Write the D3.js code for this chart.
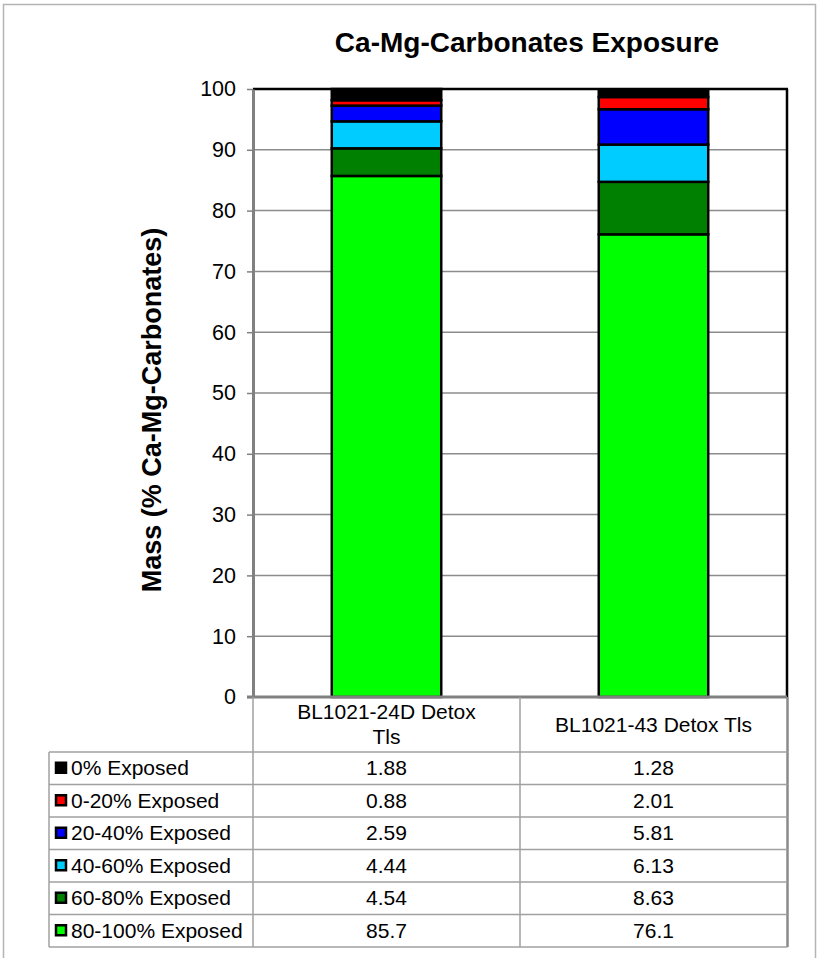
<!DOCTYPE html>
<html><head><meta charset="utf-8">
<script src="https://cdn.jsdelivr.net/npm/d3@7/dist/d3.min.js"></script>
<style>
body{margin:0;background:#fff}
text{font-family:"Liberation Sans",Arial,sans-serif;fill:#000}
</style>
</head><body>
<svg id="chart" width="817" height="958"></svg>
<script>
// ---- data ----
const categories = ["BL1021-24D Detox Tls", "BL1021-43 Detox Tls"];
const seriesNames = ["0% Exposed", "0-20% Exposed", "20-40% Exposed", "40-60% Exposed", "60-80% Exposed", "80-100% Exposed"];
const seriesColors = ["#000000", "#FF0000", "#0000FF", "#00CCFF", "#008000", "#00FF00"];
const exposed0 = [1.88, 1.28];
const exposed0to20 = [0.88, 2.01];
const exposed20to40 = [2.59, 5.81];
const exposed40to60 = [4.44, 6.13];
const exposed60to80 = [4.54, 8.63];
const exposed80to100 = [85.7, 76.1];
const yTicks = [0, 10, 20, 30, 40, 50, 60, 70, 80, 90, 100];
const titleText = "Ca-Mg-Carbonates Exposure";
const yTitleText = "Mass (% Ca-Mg-Carbonates)";

const seriesValues = [exposed0, exposed0to20, exposed20to40, exposed40to60, exposed60to80, exposed80to100];

// ---- layout ----
const svg = d3.select("#chart");
const plot = {left: 253, right: 787, top: 89, bottom: 697};
const tableLeft = 49, tableRight = 787.5, headerBottom = 752, tableBottom = 947;
const rowH = (tableBottom - headerBottom) / seriesNames.length;
const FONT = 21;

// outer border
svg.append("rect").attr("x", 3.5).attr("y", 4.5).attr("width", 812).attr("height", 965)
  .attr("fill", "none").attr("stroke", "#b4b4b4").attr("stroke-width", 1.5);

const x = d3.scaleBand().domain(categories).range([plot.left, plot.right])
  .paddingInner(0.59).paddingOuter(0.295);
const xCol = d3.scaleBand().domain(categories).range([plot.left, plot.right]);
const y = d3.scaleLinear().domain([0, 100]).range([plot.bottom, plot.top]);

// gridlines
svg.append("g").selectAll("line").data(yTicks.filter(d => d > 0 && d < 100)).join("line")
  .attr("x1", plot.left).attr("x2", plot.right)
  .attr("y1", d => y(d)).attr("y2", d => y(d))
  .attr("stroke", "#8c8c8c").attr("stroke-width", 1.5);

// stacked bars
const rows = categories.map((c, i) => {
  const o = {cat: c};
  seriesNames.forEach((s, j) => o[s] = seriesValues[j][i]);
  return o;
});
const stackKeys = seriesNames.slice().reverse();
const stacked = d3.stack().keys(stackKeys)(rows);
const color = d3.scaleOrdinal().domain(seriesNames).range(seriesColors);

svg.append("g").selectAll("g").data(stacked).join("g")
  .attr("fill", d => color(d.key))
  .selectAll("rect").data(d => d).join("rect")
  .attr("x", d => x(d.data.cat))
  .attr("width", x.bandwidth())
  .attr("y", d => y(Math.min(d[1], 100)))
  .attr("height", d => y(d[0]) - y(Math.min(d[1], 100)))
  .attr("stroke", "#000").attr("stroke-width", 2.5);

// frame top & right
svg.append("line").attr("x1", plot.left).attr("x2", plot.right + 1).attr("y1", plot.top).attr("y2", plot.top)
  .attr("stroke", "#000").attr("stroke-width", 2.5);
svg.append("line").attr("x1", plot.right).attr("x2", plot.right).attr("y1", plot.top).attr("y2", plot.bottom)
  .attr("stroke", "#000").attr("stroke-width", 2.5);

// y axis
const yAxis = svg.append("g").attr("transform", `translate(${plot.left},0)`)
  .call(d3.axisLeft(y).tickValues(yTicks).tickSize(6).tickPadding(11).tickSizeOuter(0));
yAxis.select(".domain").attr("stroke", "#808080").attr("stroke-width", 3);
yAxis.selectAll(".tick line").attr("stroke", "#808080").attr("stroke-width", 1.5);
yAxis.selectAll(".tick text").attr("font-size", 21.5).attr("font-family", "Liberation Sans, Arial, sans-serif").attr("fill", "#000");

// bottom axis line
svg.append("line").attr("x1", plot.left - 6).attr("x2", plot.right).attr("y1", plot.bottom).attr("y2", plot.bottom)
  .attr("stroke", "#808080").attr("stroke-width", 3);

// ---- data table ----
const tbl = svg.append("g");
const gridColor = "#a0a0a0";
[plot.left, xCol(categories[1])].forEach(xx => {
  tbl.append("line").attr("x1", xx).attr("x2", xx).attr("y1", plot.bottom).attr("y2", tableBottom)
    .attr("stroke", gridColor).attr("stroke-width", 1.5);
});
tbl.append("line").attr("x1", tableRight).attr("x2", tableRight).attr("y1", plot.bottom).attr("y2", tableBottom)
  .attr("stroke", "#8a8a8a").attr("stroke-width", 2.5);
tbl.append("line").attr("x1", tableLeft).attr("x2", tableLeft).attr("y1", headerBottom).attr("y2", tableBottom)
  .attr("stroke", gridColor).attr("stroke-width", 1.5);
d3.range(seriesNames.length + 1).forEach(i => {
  tbl.append("line").attr("x1", tableLeft).attr("x2", tableRight)
    .attr("y1", headerBottom + i * rowH).attr("y2", headerBottom + i * rowH)
    .attr("stroke", gridColor).attr("stroke-width", 1.5);
});

// header labels (wrapped)
function wrapLines(txt, maxW, fs) {
  const tmp = svg.append("text").attr("font-size", fs);
  const words = txt.split(" ");
  const lines = [];
  let cur = "";
  words.forEach(w => {
    const test = cur ? cur + " " + w : w;
    tmp.text(test);
    if (tmp.node().getComputedTextLength() > maxW && cur) { lines.push(cur); cur = w; }
    else cur = test;
  });
  lines.push(cur);
  tmp.remove();
  return lines;
}
const headerMid = (plot.bottom + headerBottom) / 2;
categories.forEach(c => {
  const lines = wrapLines(c, 206, FONT);
  const lh = 25;
  const cx = xCol(c) + xCol.bandwidth() / 2;
  lines.forEach((ln, k) => {
    tbl.append("text").attr("x", cx)
      .attr("y", headerMid + 7 + (k - (lines.length - 1) / 2) * lh)
      .attr("text-anchor", "middle").attr("font-size", FONT).text(ln);
  });
});

// rows: legend keys + values
seriesNames.forEach((s, j) => {
  const cy = headerBottom + j * rowH + rowH / 2;
  tbl.append("rect").attr("x", 56).attr("y", cy - 5.5).attr("width", 10).attr("height", 10)
    .attr("fill", color(s)).attr("stroke", "#000").attr("stroke-width", 2.5);
  tbl.append("text").attr("x", 71).attr("y", cy + 7).attr("font-size", FONT).text(s);
  categories.forEach((c, i) => {
    tbl.append("text").attr("x", xCol(c) + xCol.bandwidth() / 2).attr("y", cy + 7)
      .attr("text-anchor", "middle").attr("font-size", FONT).text(String(seriesValues[j][i]));
  });
});

// titles
svg.append("text").attr("x", 527).attr("y", 52).attr("text-anchor", "middle")
  .attr("font-size", 28).attr("font-weight", "bold").text(titleText);
svg.append("text").attr("transform", `translate(161,410) rotate(-90)`).attr("text-anchor", "middle")
  .attr("font-size", 27).attr("font-weight", "bold").text(yTitleText);
</script>
</body></html>
